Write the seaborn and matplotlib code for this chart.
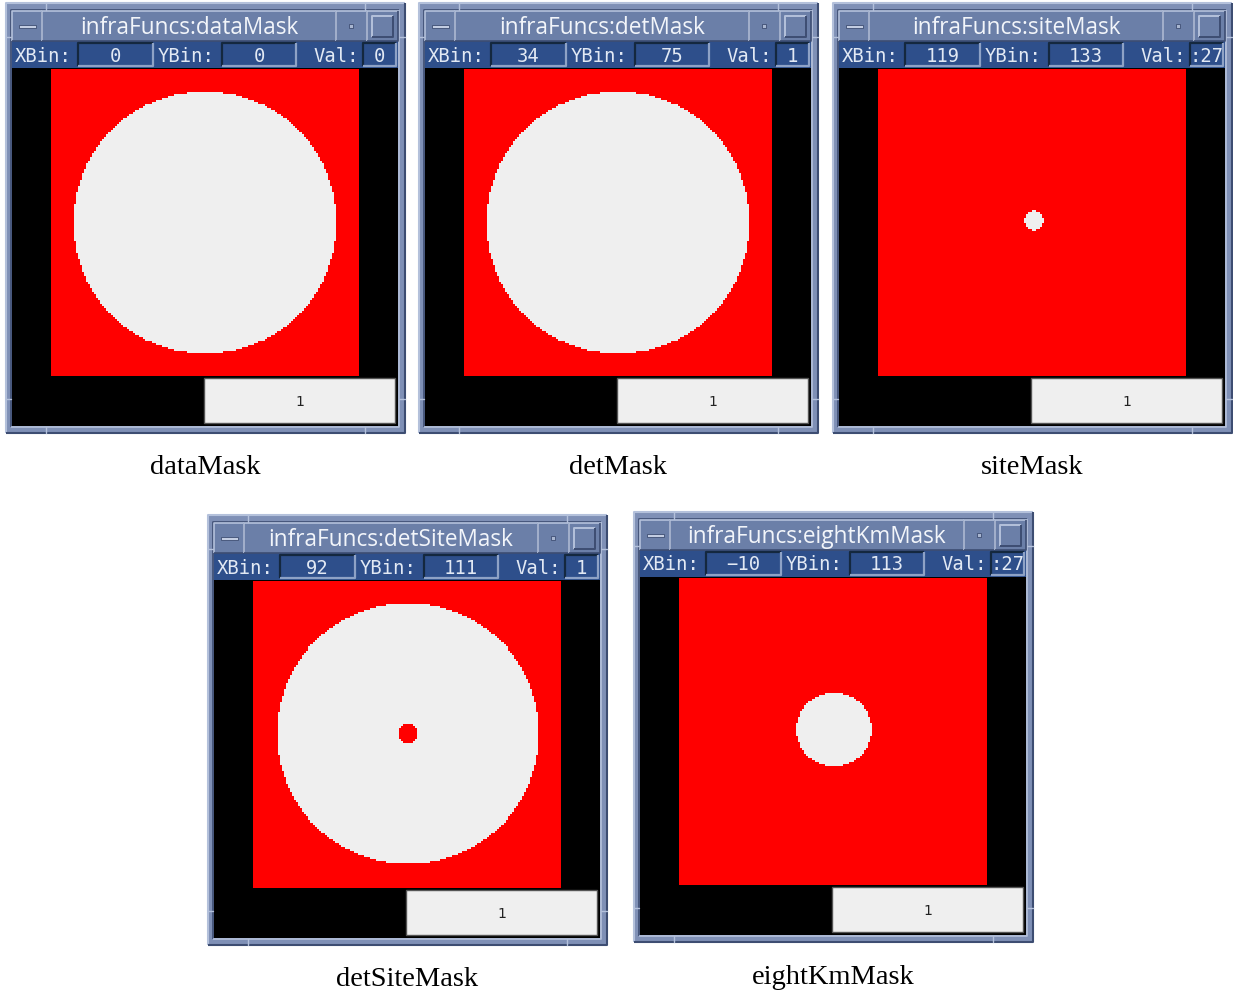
import numpy as np
import matplotlib
matplotlib.use("Agg")
import matplotlib.pyplot as plt
from matplotlib.colors import ListedColormap
from matplotlib.patches import Rectangle
import seaborn as sns

# ---------------- data ----------------
titles = ["infraFuncs:dataMask", "infraFuncs:detMask", "infraFuncs:siteMask",
          "infraFuncs:detSiteMask", "infraFuncs:eightKmMask"]
captions = ["dataMask", "detMask", "siteMask", "detSiteMask", "eightKmMask"]
xbin_vals = ["0", "34", "119", "92", "\u221210"]
ybin_vals = ["0", "75", "133", "111", "113"]
val_vals = ["0", "1", ":27", "1", ":27"]
legend_vals = ["1", "1", "1", "1", "1"]
n_bins = 150
# circles per mask: (x centre bin, y centre bin, radius in bins, mask value)
circles_dataMask = [(75, 75, 64.2, 1)]
circles_detMask = [(75, 75, 64.2, 1)]
circles_siteMask = [(76, 74, 4.6, 1)]
circles_detSiteMask = [(75.5, 74.5, 63.8, 1), (75.5, 74.5, 4.6, 0)]
circles_eightKmMask = [(75.5, 74, 18.2, 1)]
all_circles = [circles_dataMask, circles_detMask, circles_siteMask,
               circles_detSiteMask, circles_eightKmMask]
mask_colors = ["#ff0000", "#efefef"]

# window origins (top-left, pixels)
origins = [(6, 4), (419, 4), (833, 4), (208, 516), (634, 513)]

W, H = 1233, 995
sns.set_theme(style="white")
plt.rcParams["font.family"] = ["DejaVu Sans"]

fig = plt.figure(figsize=(W / 100, H / 100), dpi=100)
fig.patch.set_facecolor("white")
bg = fig.add_axes([0, 0, 1, 1])
bg.set_xlim(0, W)
bg.set_ylim(H, 0)
bg.axis("off")

FRAME = "#7f90b6"
TITLE = "#6b7fa8"
INFO = "#2e4f8b"
LIGHT = "#b4c1db"
DARK = "#3d4d72"
TXT = "#e2e9f4"


def rect(x, y, w, h, fc, ec="none", lw=0, z=1):
    bg.add_patch(Rectangle((x, y), w, h, facecolor=fc, edgecolor=ec, lw=lw, zorder=z))


def bevel(x, y, w, h, top, bot, lw=1.2, z=3):
    bg.plot([x, x, x + w], [y + h, y, y], color=top, lw=lw, zorder=z, solid_capstyle="butt")
    bg.plot([x, x + w, x + w], [y + h, y + h, y], color=bot, lw=lw, zorder=z, solid_capstyle="butt")


def pix_axes(x, y, w, h):
    return fig.add_axes([x / W, 1 - (y + h) / H, w / W, h / H])


yy, xx = np.mgrid[0:n_bins, 0:n_bins]

for i in range(5):
    ox, oy = origins[i]
    # outer frame
    rect(ox, oy, 399, 430, FRAME)
    bevel(ox, oy, 399, 430, LIGHT, DARK, lw=1.5)
    bevel(ox + 5, oy + 7, 388, 417, DARK, LIGHT, lw=1.2)
    # frame handle marks
    for hx in (ox + 40, ox + 359):
        bg.plot([hx, hx], [oy, oy + 7], color=LIGHT, lw=1, zorder=3)
        bg.plot([hx, hx], [oy + 424, oy + 430], color=LIGHT, lw=1, zorder=3)
    for hy in (oy + 34, oy + 396):
        bg.plot([ox, ox + 5], [hy, hy], color=LIGHT, lw=1, zorder=3)
        bg.plot([ox + 393, ox + 399], [hy, hy], color=LIGHT, lw=1, zorder=3)
    # title bar
    rect(ox + 6, oy + 8, 386, 30, TITLE, z=2)
    for bx, bw in ((6, 30), (36, 294), (330, 31), (361, 31)):
        bevel(ox + bx, oy + 8, bw, 30, LIGHT, DARK, lw=1.2)
    # minimize icon
    rect(ox + 13, oy + 22, 17, 3, "#c3cde2", ec=DARK, lw=0.6, z=4)
    # dot icon
    rect(ox + 343, oy + 21, 4, 4, "#a9b6d0", ec=DARK, lw=0.6, z=4)
    # square icon
    bevel(ox + 366, oy + 13, 21, 21, LIGHT, DARK, lw=1.4, z=4)
    bg.text(ox + 183, oy + 24, titles[i], ha="center", va="center", color="#f2f5fa",
            fontsize=16.3, family="Open Sans", zorder=5)
    # info bar
    rect(ox + 6, oy + 38, 386, 27, INFO, z=2)
    bg.text(ox + 9, oy + 52, "XBin:", ha="left", va="center", color=TXT,
            fontsize=13.6, family="DejaVu Sans Mono", zorder=5)
    bg.text(ox + 152, oy + 52, "YBin:", ha="left", va="center", color=TXT,
            fontsize=13.6, family="DejaVu Sans Mono", zorder=5)
    bg.text(ox + 353, oy + 52, "Val:", ha="right", va="center", color=TXT,
            fontsize=13.6, family="DejaVu Sans Mono", zorder=5)
    for (fx, fw), txt in zip(((72, 75), (216, 74), (357, 33)),
                             (xbin_vals[i], ybin_vals[i], val_vals[i])):
        rect(ox + fx, oy + 40, fw, 23, INFO, z=3)
        bevel(ox + fx, oy + 40, fw, 23, "#14283f", "#8ea2c6", lw=1.6, z=4)
        bg.text(ox + fx + fw / 2, oy + 52, txt, ha="center", va="center", color=TXT,
                fontsize=13.6, family="DejaVu Sans Mono", zorder=5)
    # black plot area
    rect(ox + 6, oy + 65, 386, 358, "black", z=2)
    # legend box
    rect(ox + 198, oy + 375, 191, 45, "#efefef", ec="#555555", lw=1, z=3)
    bg.text(ox + 293.5, oy + 398, legend_vals[i], ha="center", va="center",
            color="#222222", fontsize=10, family="DejaVu Sans", zorder=5)
    # caption
    bg.text(ox + 199, oy + 464, captions[i], ha="center", va="center", color="black",
            fontsize=20.5, family="Liberation Serif", zorder=5)

    # mask heatmap
    mask = np.zeros((n_bins, n_bins))
    for cx, cy, r, v in all_circles[i]:
        mask[(xx + 0.5 - cx) ** 2 + (yy + 0.5 - cy) ** 2 <= r ** 2] = v
    ax = pix_axes(ox + 45, oy + 66, 308, 307)
    sns.heatmap(mask, ax=ax, cmap=ListedColormap(mask_colors), vmin=0, vmax=1,
                cbar=False, xticklabels=False, yticklabels=False, square=False)
    ax.set_xlabel("")
    ax.set_ylabel("")
    for s in ax.spines.values():
        s.set_visible(False)

fig.savefig("out.png", dpi=100, facecolor="white")
